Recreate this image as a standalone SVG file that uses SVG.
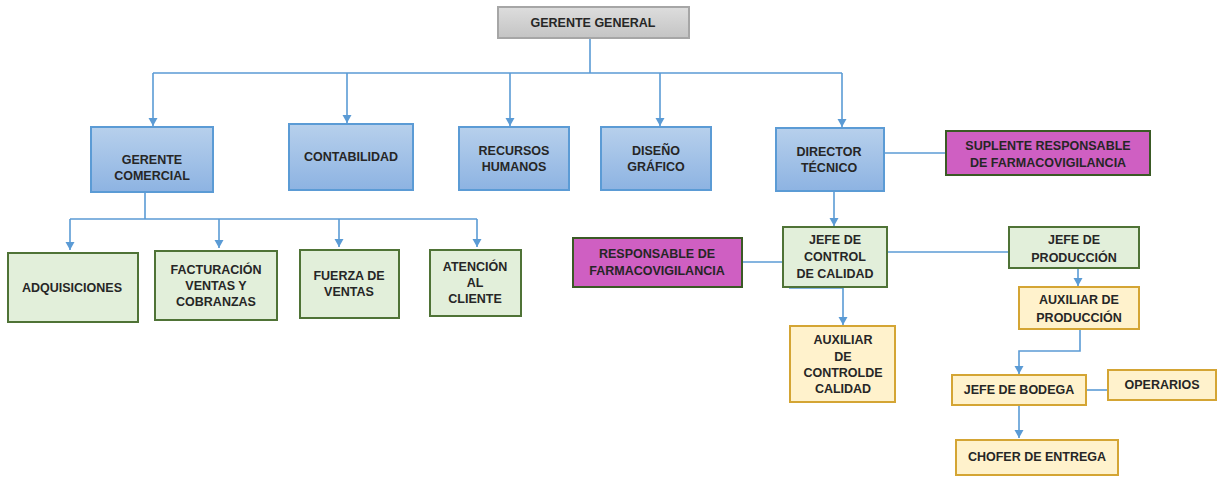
<svg xmlns="http://www.w3.org/2000/svg" width="1219" height="477" viewBox="0 0 1219 477">
<defs>
<linearGradient id="gb" x1="0" y1="0" x2="0" y2="1"><stop offset="0" stop-color="#B7D0EC"/><stop offset="1" stop-color="#8DB3E2"/></linearGradient>
<linearGradient id="gg" x1="0" y1="0" x2="0" y2="1"><stop offset="0" stop-color="#DDDDDD"/><stop offset="1" stop-color="#C4C4C4"/></linearGradient>
<marker id="ah" markerWidth="9" markerHeight="10" refX="8" refY="5" orient="auto" markerUnits="userSpaceOnUse"><path d="M0,0.5 L8,5 L0,9.5 Z" fill="#5B9BD5"/></marker>
</defs>
<style>
text{font-family:"Liberation Sans",Arial,sans-serif;font-weight:bold;font-size:12.5px;fill:#262626;text-anchor:middle}
.blue{fill:url(#gb);stroke:#5B9BD5;stroke-width:2}
.gray{fill:url(#gg);stroke:#A6A6A6;stroke-width:2}
.green{fill:#E2EFDA;stroke:#4F7336;stroke-width:2}
.yel{fill:#FFF2CC;stroke:#D4A534;stroke-width:2}
.mag{fill:#CF5FC2;stroke:#3A5A25;stroke-width:2}
.c{fill:none;stroke:#5B9BD5;stroke-width:1.6}
.a{marker-end:url(#ah)}
</style>
<g id="connectors">
<path class="c" d="M590,38 V73 M153,73 H842"/>
<path class="c a" d="M153,73 V126"/>
<path class="c a" d="M347,73 V123"/>
<path class="c a" d="M510,73 V126"/>
<path class="c a" d="M660,73 V126"/>
<path class="c a" d="M842,73 V127"/>
<path class="c" d="M884,153 H946"/>
<path class="c" d="M145,192 V219 M70,219 H477"/>
<path class="c a" d="M70,219 V250"/>
<path class="c a" d="M219,219 V248"/>
<path class="c a" d="M339,219 V247"/>
<path class="c a" d="M477,219 V247"/>
<path class="c a" d="M834,191 V226"/>
<path class="c" d="M742,262 H783"/>
<path class="c" d="M887,252 H1009"/>
<path class="c a" d="M789,288 H843 V325"/>
<path class="c a" d="M1078,268 V286"/>
<path class="c a" d="M1080,329 V351 H1019 V374"/>
<path class="c" d="M1086,390 H1108"/>
<path class="c a" d="M1019,405 V438"/>
</g>
<g id="gerente-general"><rect class="gray" x="498" y="7" width="191" height="31"/><text x="593" y="27">GERENTE GENERAL</text></g>
<g id="gerente-comercial"><rect class="blue" x="91" y="127" width="122" height="65"/><text x="152" y="164">GERENTE</text><text x="152" y="180">COMERCIAL</text></g>
<g id="contabilidad"><rect class="blue" x="289" y="124" width="124" height="66"/><text x="351" y="161">CONTABILIDAD</text></g>
<g id="recursos-humanos"><rect class="blue" x="459" y="127" width="110" height="63"/><text x="514" y="155">RECURSOS</text><text x="514" y="171">HUMANOS</text></g>
<g id="diseno-grafico"><rect class="blue" x="601" y="127" width="110" height="63"/><text x="656" y="155">DISEÑO</text><text x="656" y="171">GRÁFICO</text></g>
<g id="director-tecnico"><rect class="blue" x="776" y="128" width="108" height="63"/><text x="829" y="156">DIRECTOR</text><text x="829" y="172">TÉCNICO</text></g>
<g id="suplente"><rect class="mag" x="946" y="131" width="204" height="44"/><text x="1048" y="150">SUPLENTE RESPONSABLE</text><text x="1048" y="167">DE FARMACOVIGILANCIA</text></g>
<g id="adquisiciones"><rect class="green" x="8" y="253" width="130" height="69"/><text x="72" y="292">ADQUISICIONES</text></g>
<g id="facturacion"><rect class="green" x="155" y="251" width="122" height="69"/><text x="216" y="274">FACTURACIÓN</text><text x="216" y="290">VENTAS Y</text><text x="216" y="306">COBRANZAS</text></g>
<g id="fuerza-ventas"><rect class="green" x="300" y="250" width="99" height="68"/><text x="349" y="280">FUERZA DE</text><text x="349" y="296">VENTAS</text></g>
<g id="atencion-cliente"><rect class="green" x="430" y="250" width="91" height="66"/><text x="475" y="271">ATENCIÓN</text><text x="475" y="287">AL</text><text x="475" y="303">CLIENTE</text></g>
<g id="responsable-farmaco"><rect class="mag" x="573" y="238" width="169" height="49"/><text x="657" y="258">RESPONSABLE DE</text><text x="657" y="275">FARMACOVIGILANCIA</text></g>
<g id="jefe-control-calidad"><rect class="green" x="783" y="227" width="104" height="60"/><text x="835" y="244">JEFE DE</text><text x="835" y="261">CONTROL</text><text x="835" y="278">DE CALIDAD</text></g>
<g id="auxiliar-control"><rect class="yel" x="790" y="326" width="105" height="76"/><text x="843" y="344">AUXILIAR</text><text x="843" y="361">DE</text><text x="843" y="377">CONTROLDE</text><text x="843" y="393">CALIDAD</text></g>
<g id="jefe-produccion"><rect class="green" x="1009" y="227" width="130" height="41"/><text x="1074" y="244">JEFE  DE</text><text x="1074" y="262">PRODUCCIÓN</text></g>
<g id="auxiliar-produccion"><rect class="yel" x="1019" y="287" width="120" height="42"/><text x="1079" y="304">AUXILIAR  DE</text><text x="1079" y="322">PRODUCCIÓN</text></g>
<g id="jefe-bodega"><rect class="yel" x="952" y="375" width="134" height="30"/><text x="1019" y="394">JEFE  DE BODEGA</text></g>
<g id="operarios"><rect class="yel" x="1108" y="370" width="108" height="30"/><text x="1162" y="389">OPERARIOS</text></g>
<g id="chofer"><rect class="yel" x="956" y="440" width="162" height="35"/><text x="1037" y="461">CHOFER  DE ENTREGA</text></g>
</svg>
